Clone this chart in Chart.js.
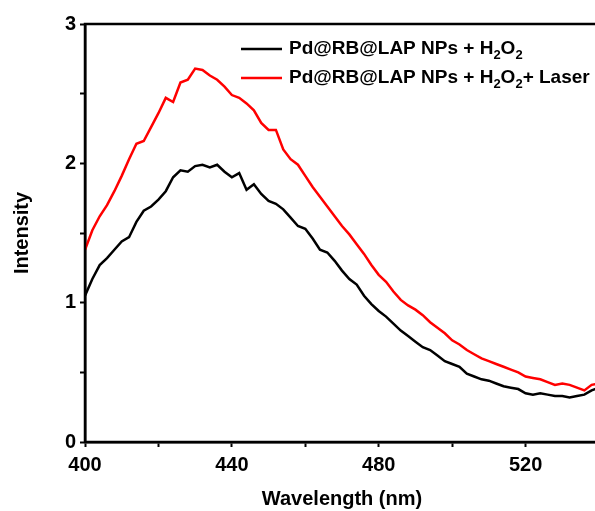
<!DOCTYPE html>
<html>
<head>
<meta charset="utf-8">
<script src="https://cdn.jsdelivr.net/npm/chart.js@4.4.1/dist/chart.umd.min.js"></script>
<style>
  html, body { margin: 0; padding: 0; background: #fff; overflow: hidden; }
  #wrap { width: 640px; height: 511px; }
</style>
</head>
<body>
<div id="wrap"><canvas id="spectrum"></canvas></div>
<script>
// wavelength (nm)
const wavelength = [400,402,404,406,408,410,412,414,416,418,420,422,424,426,428,430,432,434,436,438,
  440,442,444,446,448,450,452,454,456,458,460,462,464,466,468,470,472,474,476,478,
  480,482,484,486,488,490,492,494,496,498,500,502,504,506,508,510,512,514,516,518,
  520,522,524,526,528,530,532,534,536,538,540]

// Pd@RB@LAP NPs + H2O2
const intensityH2O2 = [1.05,1.17,1.27,1.32,1.38,1.44,1.47,1.58,1.66,1.69,1.74,1.80,1.90,1.95,1.94,1.98,1.99,1.97,1.99,1.94,
  1.90,1.93,1.81,1.85,1.78,1.73,1.71,1.67,1.61,1.55,1.53,1.46,1.38,1.36,1.30,1.23,1.17,1.13,1.05,0.99,
  0.94,0.90,0.85,0.80,0.76,0.72,0.68,0.66,0.62,0.58,0.56,0.54,0.49,0.47,0.45,0.44,0.42,0.40,0.39,0.38,
  0.35,0.34,0.35,0.34,0.33,0.33,0.32,0.33,0.34,0.37,0.39]

// Pd@RB@LAP NPs + H2O2 + Laser
const intensityLaser = [1.38,1.52,1.62,1.70,1.80,1.91,2.03,2.14,2.16,2.26,2.36,2.47,2.44,2.58,2.60,2.68,2.67,2.63,2.60,2.55,
  2.49,2.47,2.43,2.38,2.29,2.24,2.24,2.10,2.03,1.99,1.91,1.83,1.76,1.69,1.62,1.55,1.49,1.42,1.35,1.27,
  1.20,1.15,1.08,1.02,0.98,0.95,0.91,0.86,0.82,0.78,0.73,0.70,0.66,0.63,0.60,0.58,0.56,0.54,0.52,0.50,
  0.47,0.46,0.45,0.43,0.41,0.42,0.41,0.39,0.37,0.41,0.42]

const seriesLabels = ['Pd@RB@LAP NPs + H_2O_2', 'Pd@RB@LAP NPs + H_2O_2+ Laser']
const seriesColors = ['#000000', '#ff0000']

const FONT = '"Liberation Sans", Arial, sans-serif'

// frame around the plot area
const framePlugin = {
  id: 'frame',
  afterDraw(chart) {
    const a = chart.chartArea, c = chart.ctx
    c.save()
    c.strokeStyle = '#000'
    c.lineWidth = 2.5
    c.strokeRect(a.left, a.top, a.right - a.left, a.bottom - a.top)
    c.restore()
  }
}

// legend with subscripts (H_2 -> H₂)
const legendPlugin = {
  id: 'subLegend',
  afterDraw(chart) {
    const c = chart.ctx
    const rows = [49, 78]
    chart.data.datasets.forEach((ds, i) => {
      const y = rows[i]
      c.save()
      c.strokeStyle = ds.borderColor
      c.lineWidth = 2.5
      c.beginPath()
      c.moveTo(241, y)
      c.lineTo(282, y)
      c.stroke()
      c.fillStyle = '#000'
      c.textBaseline = 'middle'
      let x = 289
      const parts = ds.label.split(/(_\d)/)
      for (const p of parts) {
        if (!p) continue
        if (p[0] === '_') {
          c.font = 'bold 13px ' + FONT
          c.fillText(p[1], x, y + 6)
          x += c.measureText(p[1]).width
        } else {
          c.font = 'bold 19px ' + FONT
          c.fillText(p, x, y)
          x += c.measureText(p).width
        }
      }
      c.restore()
    })
  }
}

const ctx = document.getElementById('spectrum')

new Chart(ctx, {
  type: 'line',
  data: {
    datasets: [
      {
        label: seriesLabels[0],
        data: wavelength.map((w, i) => ({ x: w, y: intensityH2O2[i] })),
        borderColor: seriesColors[0],
        borderWidth: 2.5,
        pointRadius: 0,
        tension: 0
      },
      {
        label: seriesLabels[1],
        data: wavelength.map((w, i) => ({ x: w, y: intensityLaser[i] })),
        borderColor: seriesColors[1],
        borderWidth: 2.5,
        pointRadius: 0,
        tension: 0
      }
    ]
  },
  options: {
    responsive: true,
    maintainAspectRatio: false,
    animation: false,
    layout: { padding: { top: 24, right: 41, left: 0, bottom: 0 } },
    plugins: {
      legend: { display: false },
      tooltip: { enabled: false }
    },
    scales: {
      x: {
        type: 'linear',
        min: 400,
        max: 540,
        afterFit: s => { s.height = 69 },
        border: { color: '#000', width: 2.5 },
        grid: { drawOnChartArea: false, color: '#000', tickLength: 5, tickWidth: 2 },
        ticks: {
          stepSize: 20,
          color: '#000',
          padding: 6,
          font: { family: FONT, size: 20, weight: 'bold' },
          callback: v => (v % 40 === 0 ? v : '')
        },
        title: {
          display: true,
          text: 'Wavelength (nm)',
          color: '#000',
          padding: { top: 6, bottom: 0 },
          font: { family: FONT, size: 20, weight: 'bold' }
        }
      },
      y: {
        min: 0,
        max: 3,
        afterFit: s => { s.width = 85 },
        border: { color: '#000', width: 2.5 },
        grid: { drawOnChartArea: false, color: '#000', tickLength: 5, tickWidth: 2 },
        ticks: {
          stepSize: 0.5,
          color: '#000',
          padding: 4,
          font: { family: FONT, size: 20, weight: 'bold' },
          callback: v => (Number.isInteger(v) ? v : '')
        },
        title: {
          display: true,
          text: 'Intensity',
          color: '#000',
          padding: { top: 10, bottom: 0 },
          font: { family: FONT, size: 20, weight: 'bold' }
        }
      }
    }
  },
  plugins: [framePlugin, legendPlugin]
})
</script>
</body>
</html>
